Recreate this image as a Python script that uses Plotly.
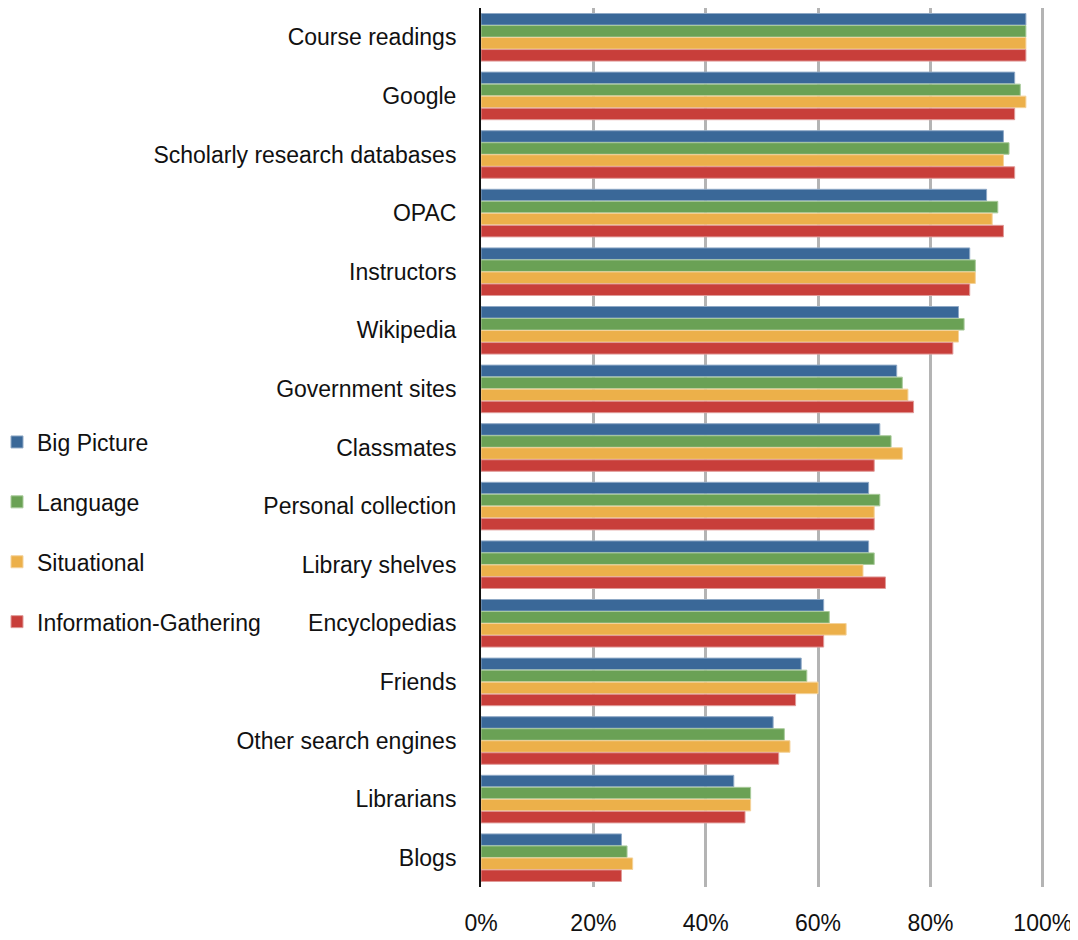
import plotly.graph_objects as go

categories = ["Course readings", "Google", "Scholarly research databases", "OPAC",
              "Instructors", "Wikipedia", "Government sites", "Classmates",
              "Personal collection", "Library shelves", "Encyclopedias", "Friends",
              "Other search engines", "Librarians", "Blogs"]

big_picture = [97, 95, 93, 90, 87, 85, 74, 71, 69, 69, 61, 57, 52, 45, 25]
language    = [97, 96, 94, 92, 88, 86, 75, 73, 71, 70, 62, 58, 54, 48, 26]
situational = [97, 97, 93, 91, 88, 85, 76, 75, 70, 68, 65, 60, 55, 48, 27]
info_gather = [97, 95, 95, 93, 87, 84, 77, 70, 70, 72, 61, 56, 53, 47, 25]

series_names = ["Big Picture", "Language", "Situational", "Information-Gathering"]
series_vals = [big_picture, language, situational, info_gather]
colors = ["#3a6898", "#6aa155", "#ecb04a", "#c83e3a"]
line_colors = ["#8fa9c6", "#a9cb9b", "#f4d29a", "#e09a98"]

tick_vals = [0, 20, 40, 60, 80, 100]
tick_text = ["0%", "20%", "40%", "60%", "80%", "100%"]

fig = go.Figure()
for name, vals, c, lc in zip(series_names, series_vals, colors, line_colors):
    fig.add_trace(go.Bar(
        y=categories, x=vals, name=name, orientation="h",
        marker=dict(color=c, line=dict(color=lc, width=1)),
        legendgroup=name,
    ))

W, H = 1070, 932
ML, MR, MT, MB = 473, 33, 0, 53
font = "Liberation Sans, Arial, Helvetica, sans-serif"
fig.update_layout(
    width=W, height=H,
    margin=dict(l=ML, r=MR, t=MT, b=MB, autoexpand=False),
    paper_bgcolor="white", plot_bgcolor="white",
    barmode="group", bargap=0.18, bargroupgap=0.04,
    font=dict(family=font, size=23, color="#111111"),
    showlegend=True,
    legend=dict(
        xref="paper", yref="container",
        x=(-11 - ML) / (W - ML - MR), y=1 - 524 / H,
        xanchor="left", yanchor="middle",
        traceorder="grouped", tracegroupgap=27,
        font=dict(family=font, size=23, color="#111111"),
        itemwidth=30, bgcolor="rgba(0,0,0,0)",
    ),
    xaxis=dict(
        range=[0, 100.4], tickvals=tick_vals, ticktext=tick_text,
        showgrid=True, gridcolor="#b4b4b4", gridwidth=2.5,
        zeroline=False, showline=False, ticks="",
        ticklabelstandoff=20, automargin=False,
        tickfont=dict(family=font, size=23, color="#111111"),
    ),
    yaxis=dict(
        autorange=False, range=[14.5, -0.5],
        categoryorder="array", categoryarray=categories,
        showline=True, linecolor="#111111", linewidth=2,
        showgrid=False, ticks="", ticklabelstandoff=18, automargin=False,
        tickfont=dict(family=font, size=23, color="#111111"),
    ),
)

fig.write_html("out.html")
